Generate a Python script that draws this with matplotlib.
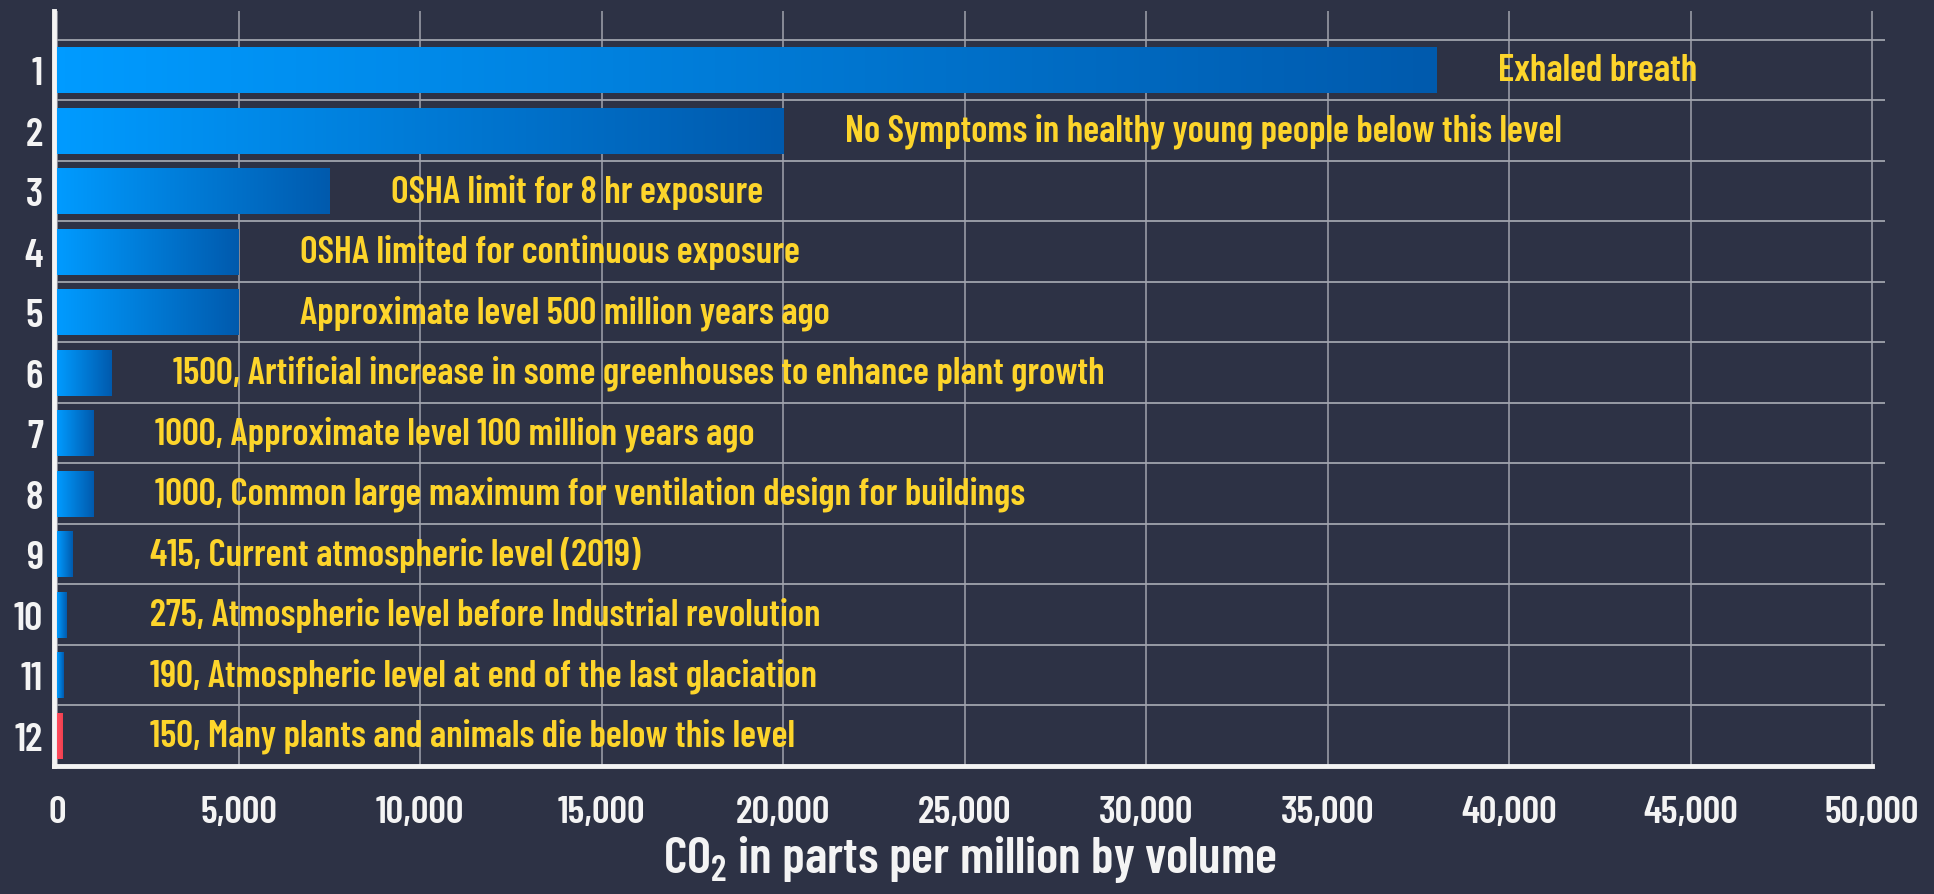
import matplotlib
matplotlib.use("Agg")
import matplotlib.pyplot as plt
from matplotlib.colors import LinearSegmentedColormap
import numpy as np

# CO2 levels, top row first
ranks = [str(i) for i in range(1, 13)]
ppm = [38000, 20000, 7500, 5000, 5000, 1500, 1000, 1000, 415, 275, 190, 150]
notes = [
    "Exhaled breath",
    "No Symptoms in healthy young people below this level",
    "OSHA limit for 8 hr exposure",
    "OSHA limited for continuous exposure",
    "Approximate level 500 million years ago",
    "1500, Artificial increase in some greenhouses to enhance plant growth",
    "1000, Approximate level 100 million years ago",
    "1000, Common large maximum for ventilation design for buildings",
    "415, Current atmospheric level (2019)",
    "275, Atmospheric level before Industrial revolution",
    "190, Atmospheric level at end of the last glaciation",
    "150, Many plants and animals die below this level",
]
xticks = list(range(0, 50001, 5000))

bg = "#2d3245"
yellow = "#fdd52b"
white = "#f4f4f4"
font = "Barlow Condensed"

plt.rcParams["font.family"] = [font, "DejaVu Sans"]
plt.rcParams["font.weight"] = "semibold"
plt.rcParams["axes.labelweight"] = "semibold"
plt.rcParams["mathtext.fontset"] = "custom"
plt.rcParams["mathtext.rm"] = font + ":semibold"

fig = plt.figure(figsize=(19.34, 8.95), dpi=100, facecolor=bg)
W, H = 1934, 895
ax = fig.add_axes([54 / W, 1 - 767 / H, (1885 - 54) / W, (767 - 12) / H])
ax.set_facecolor(bg)

blue_cm = LinearSegmentedColormap.from_list("b", ["#009bff", "#005aad"])
red_cm = LinearSegmentedColormap.from_list("r", ["#ff4d5e", "#f0404f"])
grad = np.linspace(0, 1, 256).reshape(1, -1)

bh = 0.76
for i, (v, txt) in enumerate(zip(ppm, notes)):
    cm = red_cm if i == len(ppm) - 1 else blue_cm
    ax.imshow(grad, cmap=cm, aspect="auto", interpolation="bilinear",
              extent=[0, v, i + bh / 2, i - bh / 2], zorder=3)
    ax.text(max(v + 1700, 2550), i, txt, color=yellow, fontsize=27,
            va="center", ha="left", zorder=4)

ax.set_xlim(-83, 50357)
ax.set_ylim(11.5, -0.975)

# row separators
ax.hlines(np.arange(-0.5, 11.0, 1.0), 0, 50357, color="#a0a3ad", lw=1.3, zorder=1)
ax.set_xticks(xticks)
ax.set_xticklabels([f"{t:,}" for t in xticks], color=white, fontsize=28)
ax.grid(axis="x", color="#a0a3ad", lw=1.1, zorder=1)
ax.set_axisbelow(True)
ax.set_yticks(range(12))
ax.set_yticklabels(ranks, color=white, fontsize=29)
ax.tick_params(length=0)
ax.tick_params(axis="x", pad=21)
ax.tick_params(axis="y", pad=8)

for s in ["top", "right"]:
    ax.spines[s].set_visible(False)
ax.spines["left"].set_color(white)
ax.spines["left"].set_linewidth(3.5)
ax.spines["bottom"].set_color(white)
ax.spines["bottom"].set_linewidth(3.5)
ax.spines["bottom"].set_bounds(-83, 50000)

ax.set_xlabel(r"CO$_{\mathregular{2}}$ in parts per million by volume",
              color=white, fontsize=37, labelpad=3)

fig.savefig("out.png", dpi=100, facecolor=bg)
